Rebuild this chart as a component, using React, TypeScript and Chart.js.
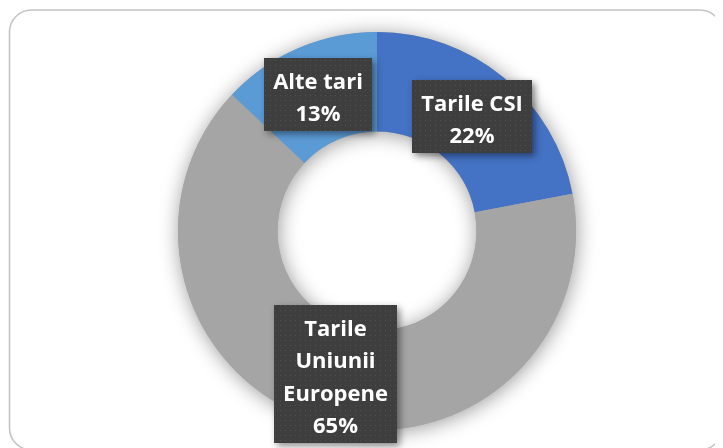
import React, { useEffect, useRef } from "react";
import { Chart, registerables } from "chart.js";

Chart.register(...registerables);

const categories = ["Tarile CSI", "Tarile Uniunii Europene", "Alte tari"];
const shares = [22, 65, 13];
const sliceColors = ["#4472C4", "#A5A5A5", "#5B9BD5"];

const LABEL_FONT = 'bold 22px "Open Sans"';
const LINE_H = 32.5;
const WRAP_W = 112;
const PAD_X = 9;

function wrap(ctx: CanvasRenderingContext2D, text: string): string[] {
  const words = text.split(" ");
  const lines: string[] = [];
  let cur = "";
  for (const w of words) {
    const test = cur ? cur + " " + w : w;
    if (cur && ctx.measureText(test).width > WRAP_W) {
      lines.push(cur);
      cur = w;
    } else cur = test;
  }
  if (cur) lines.push(cur);
  return lines;
}

function makePattern(ctx: CanvasRenderingContext2D) {
  const c = document.createElement("canvas");
  c.width = 5;
  c.height = 5;
  const p = c.getContext("2d")!;
  p.fillStyle = "#3e3e3e";
  p.fillRect(0, 0, 5, 5);
  p.fillStyle = "#515151";
  p.fillRect(2, 2, 1, 1);
  return ctx.createPattern(c, "repeat");
}

const framePlugin = {
  id: "frame",
  beforeDraw(chart: any) {
    const ctx = chart.ctx as CanvasRenderingContext2D;
    ctx.save();
    ctx.strokeStyle = "#C4C4C4";
    ctx.lineWidth = 1.6;
    ctx.beginPath();
    (ctx as any).roundRect(1.5, 2, 712.5, 440, 22);
    ctx.stroke();
    ctx.restore();
  },
};

const ringShadowPlugin = {
  id: "ringShadow",
  beforeDatasetsDraw(chart: any) {
    const meta = chart.getDatasetMeta(0);
    const a = meta.data[0];
    if (!a) return;
    const { x, y, outerRadius, innerRadius } = a.getProps(["x", "y", "outerRadius", "innerRadius"], true);
    const ctx = chart.ctx as CanvasRenderingContext2D;
    ctx.save();
    ctx.shadowColor = "rgba(0,0,0,0.4)";
    ctx.shadowBlur = 20;
    ctx.shadowOffsetX = 1;
    ctx.shadowOffsetY = 2;
    ctx.beginPath();
    ctx.arc(x, y, outerRadius, 0, Math.PI * 2);
    ctx.arc(x, y, innerRadius, 0, Math.PI * 2, true);
    ctx.closePath();
    ctx.fillStyle = "#A5A5A5";
    ctx.fill();
    ctx.restore();
  },
};

const labelPlugin = {
  id: "boxLabels",
  afterDatasetsDraw(chart: any) {
    const ctx = chart.ctx as CanvasRenderingContext2D;
    const meta = chart.getDatasetMeta(0);
    const data = chart.data.datasets[0].data as number[];
    const total = data.reduce((s, v) => s + v, 0);
    const pattern = makePattern(ctx);
    ctx.save();
    ctx.font = LABEL_FONT;
    meta.data.forEach((arc: any, i: number) => {
      const pos = arc.tooltipPosition(true);
      const lines = [...wrap(ctx, String(chart.data.labels[i])), Math.round((data[i] / total) * 100) + "%"];
      const maxW = Math.max(...lines.map((l) => ctx.measureText(l).width));
      const w = Math.round(maxW + PAD_X * 2);
      const h = Math.round(lines.length * LINE_H + 8);
      const left = Math.round(pos.x - w / 2);
      const top = Math.round(pos.y - h / 2);
      ctx.save();
      ctx.shadowColor = "rgba(0,0,0,0.45)";
      ctx.shadowBlur = 7;
      ctx.shadowOffsetX = 3;
      ctx.shadowOffsetY = 3;
      ctx.fillStyle = "#3e3e3e";
      ctx.fillRect(left, top, w, h);
      ctx.restore();
      ctx.fillStyle = pattern || "#3e3e3e";
      ctx.fillRect(left, top, w, h);
      ctx.fillStyle = "#FFFFFF";
      ctx.textAlign = "center";
      ctx.textBaseline = "alphabetic";
      lines.forEach((l, k) => {
        ctx.fillText(l, left + w / 2, top + 30.5 + k * LINE_H);
      });
    });
    ctx.restore();
  },
};

export default function App() {
  const ref = useRef<HTMLCanvasElement>(null);
  useEffect(() => {
    const chart = new Chart(ref.current!, {
      type: "doughnut",
      data: {
        labels: categories,
        datasets: [
          {
            data: shares,
            backgroundColor: sliceColors,
            borderWidth: 0,
            hoverOffset: 0,
            offset: 0,
          },
        ],
      },
      options: {
        animation: false,
        responsive: false,
        cutout: "50%",
        layout: { padding: { left: 23, right: 0, top: 24, bottom: 18 } },
        plugins: { legend: { display: false }, tooltip: { enabled: false } },
        events: [],
      },
      plugins: [framePlugin, ringShadowPlugin, labelPlugin],
    });
    return () => chart.destroy();
  }, []);
  return <canvas ref={ref} width={715} height={440} style={{ display: "block" }} />;
}
